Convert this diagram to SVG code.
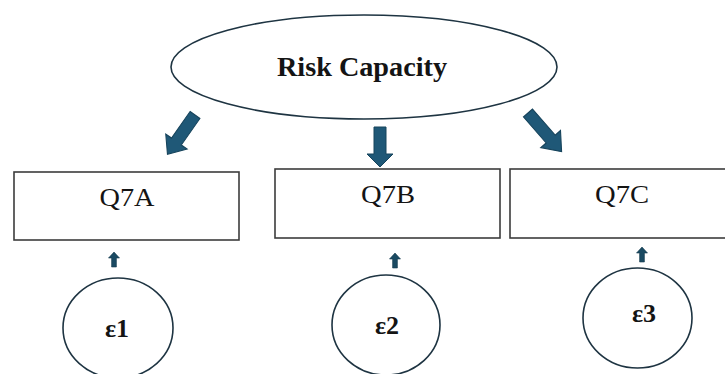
<svg xmlns="http://www.w3.org/2000/svg" width="725" height="374" viewBox="0 0 725 374">
  <style>
    .latent { fill: #ffffff; stroke: #1e3442; stroke-width: 1.6; }
    .item { fill: #ffffff; stroke: #3c3c3c; stroke-width: 1.6; }
    .lbl { font-family: "Liberation Serif", "Times New Roman", serif; fill: #141414; text-anchor: middle; }
    .bold { font-weight: bold; }
    .arrow { fill: #1f5877; stroke: #17445c; stroke-width: 1; }
    .small { fill: #1a4a62; stroke: #143a4e; stroke-width: 0.6; }
  </style>
  <defs>
    <!-- thick block arrow pointing down, origin at tail centre -->
    <path id="bigArrow" d="M -6,0 L 6,0 L 6,27 L 13,27 L 0,40 L -13,27 L -6,27 Z"/>
    <!-- small block arrow pointing up, origin at tail centre -->
    <path id="smallArrow" d="M -2.4,0 L 2.4,0 L 2.4,-9 L 5.5,-9 L 0,-15 L -5.5,-9 L -2.4,-9 Z"/>
  </defs>

  <g id="risk-capacity">
    <ellipse class="latent" cx="364" cy="67" rx="193" ry="52"/>
    <text class="lbl bold" x="362" y="76" font-size="27" textLength="170" lengthAdjust="spacingAndGlyphs">Risk Capacity</text>
  </g>

  <g id="q7a">
    <rect class="item" x="14" y="172" width="225" height="68"/>
    <text class="lbl" x="127" y="206" font-size="25" textLength="55" lengthAdjust="spacingAndGlyphs">Q7A</text>
  </g>
  <g id="q7b">
    <rect class="item" x="275" y="169" width="225" height="69"/>
    <text class="lbl" x="388" y="203" font-size="25" textLength="54" lengthAdjust="spacingAndGlyphs">Q7B</text>
  </g>
  <g id="q7c">
    <rect class="item" x="510" y="169" width="225" height="69"/>
    <text class="lbl" x="622" y="203" font-size="25" textLength="54" lengthAdjust="spacingAndGlyphs">Q7C</text>
  </g>

  <g id="e1">
    <ellipse class="latent" cx="118" cy="328" rx="55" ry="50"/>
    <text class="lbl bold" x="117" y="337" font-size="26">ε1</text>
  </g>
  <g id="e2">
    <ellipse class="latent" cx="386" cy="325" rx="54" ry="50"/>
    <text class="lbl bold" x="387" y="334" font-size="26">ε2</text>
  </g>
  <g id="e3">
    <ellipse class="latent" cx="637.5" cy="318" rx="54.5" ry="50"/>
    <text class="lbl bold" x="644" y="322" font-size="26">ε3</text>
  </g>

  <g id="connectors">
    <use href="#bigArrow" class="arrow" transform="translate(195,115) rotate(35) scale(1,1.2)"/>
    <use href="#bigArrow" class="arrow" transform="translate(380,127)"/>
    <use href="#bigArrow" class="arrow" transform="translate(528,113) rotate(-41) scale(1,1.28)"/>
    <use href="#smallArrow" class="small" transform="translate(114,267)"/>
    <use href="#smallArrow" class="small" transform="translate(395,268)"/>
    <use href="#smallArrow" class="small" transform="translate(642,262)"/>
  </g>
</svg>
